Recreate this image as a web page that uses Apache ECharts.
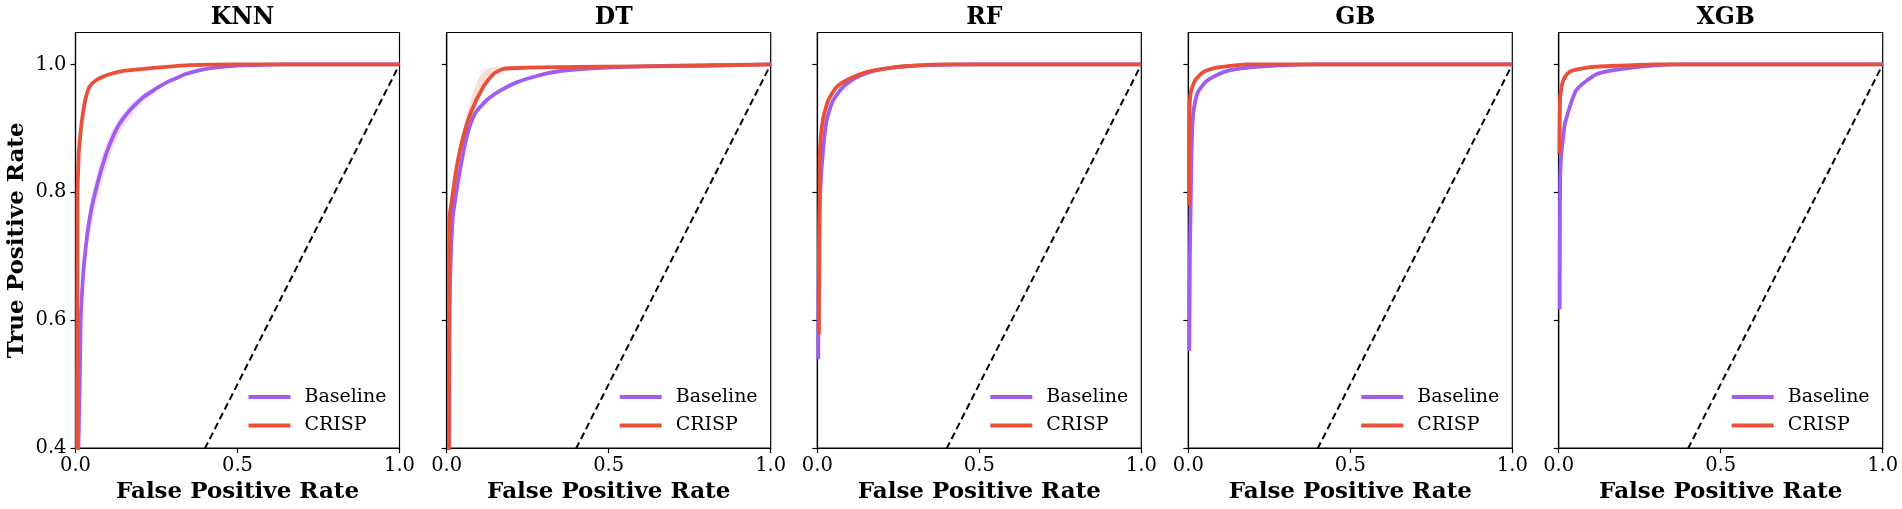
<!DOCTYPE html>
<html>
<head>
<meta charset="utf-8">
<script src="https://cdn.jsdelivr.net/npm/echarts@6/dist/echarts.min.js"></script>
<style>
html,body{margin:0;padding:0;background:#fff;}
#chart{width:1902px;height:509px;}
</style>
</head>
<body>
<div id="chart"></div>
<script>
// ---------- data ----------
const models = ['KNN', 'DT', 'RF', 'GB', 'XGB'];
const seriesNames = ['Baseline', 'CRISP'];
const xTicks = [0, 0.5, 1.0];
const yTicks = [0.4, 0.6, 0.8, 1.0];
const chance = [[0, 0], [1, 1]];

const knnBaseline = [[0.007,0.3],[0.009,0.4],[0.013,0.5],[0.016,0.6],[0.021,0.65],[0.026,0.686],[0.036,0.733],[0.046,0.766],[0.056,0.79],[0.067,0.812],[0.081,0.838],[0.096,0.862],[0.112,0.883],[0.133,0.905],[0.169,0.929],[0.205,0.947],[0.236,0.958],[0.261,0.966],[0.282,0.972],[0.313,0.979],[0.34,0.985],[0.385,0.991],[0.43,0.995],[0.49,0.998],[0.55,0.999],[0.65,1.0],[1.0,1.0]];
const knnCrisp = [[0.005,0.3],[0.005,0.5],[0.006,0.7],[0.006,0.798],[0.009,0.845],[0.01,0.861],[0.015,0.89],[0.02,0.913],[0.03,0.944],[0.043,0.965],[0.066,0.976],[0.09,0.982],[0.107,0.985],[0.148,0.99],[0.21,0.993],[0.272,0.996],[0.354,0.999],[0.5,1.0],[1.0,1.0]];

const dtBaseline = [[0.007,0.3],[0.008,0.5],[0.01,0.65],[0.018,0.757],[0.026,0.788],[0.041,0.835],[0.062,0.887],[0.087,0.923],[0.123,0.944],[0.165,0.959],[0.216,0.972],[0.278,0.982],[0.34,0.989],[0.45,0.994],[0.6,0.997],[0.8,0.999],[1.0,1.0]];
const dtCrisp = [[0.007,0.3],[0.007,0.6],[0.008,0.757],[0.016,0.788],[0.031,0.84],[0.051,0.887],[0.077,0.928],[0.113,0.965],[0.144,0.985],[0.175,0.993],[0.25,0.995],[0.35,0.996],[0.6,0.997],[0.8,0.998],[1.0,1.0]];

const rfBaseline = [[0.003,0.539],[0.004,0.65],[0.008,0.788],[0.017,0.861],[0.029,0.913],[0.049,0.944],[0.08,0.965],[0.122,0.98],[0.183,0.991],[0.245,0.996],[0.35,0.999],[0.5,1.0],[1.0,1.0]];
const rfCrisp = [[0.005,0.578],[0.006,0.7],[0.007,0.788],[0.008,0.861],[0.017,0.913],[0.034,0.944],[0.06,0.965],[0.101,0.978],[0.152,0.988],[0.214,0.994],[0.296,0.998],[0.4,1.0],[1.0,1.0]];

const gbBaseline = [[0.003,0.552],[0.005,0.7],[0.007,0.767],[0.01,0.861],[0.015,0.923],[0.028,0.955],[0.052,0.972],[0.082,0.982],[0.129,0.991],[0.2,0.996],[0.3,0.999],[0.4,1.0],[1.0,1.0]];
const gbCrisp = [[0.002,0.78],[0.003,0.913],[0.007,0.955],[0.021,0.975],[0.046,0.988],[0.077,0.994],[0.118,0.997],[0.18,1.0],[1.0,1.0]];

const xgbBaseline = [[0.003,0.617],[0.004,0.788],[0.005,0.83],[0.008,0.861],[0.013,0.882],[0.018,0.905],[0.026,0.92],[0.035,0.935],[0.041,0.944],[0.053,0.959],[0.07,0.968],[0.087,0.975],[0.118,0.985],[0.169,0.991],[0.24,0.996],[0.28,0.998],[0.38,1.0],[1.0,1.0]];
const xgbCrisp = [[0.002,0.861],[0.004,0.944],[0.007,0.959],[0.012,0.972],[0.019,0.98],[0.026,0.985],[0.04,0.99],[0.066,0.993],[0.097,0.996],[0.178,0.998],[0.3,1.0],[1.0,1.0]];

// shaded spread bands: upper edge then lower edge (reversed)
const knnBaselineBandUpper = [[0.03,0.735],[0.05,0.795],[0.075,0.848],[0.1,0.883],[0.13,0.913],[0.17,0.938],[0.21,0.955],[0.26,0.97]];
const knnBaselineBandLower = [[0.26,0.962],[0.22,0.946],[0.18,0.925],[0.14,0.897],[0.11,0.862],[0.085,0.822],[0.06,0.772],[0.04,0.722]];
const dtCrispBandUpper = [[0.01,0.75],[0.025,0.82],[0.04,0.87],[0.06,0.92],[0.08,0.955],[0.1,0.98],[0.12,0.993],[0.16,0.997]];
const dtCrispBandLower = [[0.16,0.99],[0.14,0.982],[0.12,0.965],[0.1,0.945],[0.08,0.92],[0.06,0.89],[0.04,0.85],[0.02,0.79],[0.012,0.75]];

const curves = [
  [knnBaseline, knnCrisp],
  [dtBaseline, dtCrisp],
  [rfBaseline, rfCrisp],
  [gbBaseline, gbCrisp],
  [xgbBaseline, xgbCrisp]
];
const bands = [
  {panel: 0, upper: knnBaselineBandUpper, lower: knnBaselineBandLower, which: 0},
  {panel: 1, upper: dtCrispBandUpper, lower: dtCrispBandLower, which: 1}
];

// ---------- style / layout ----------
const colors = ['#a15cf0', '#e8503a'];
const FONT = 'DejaVu Serif';
const panelLefts = [75.5, 446.7, 817.3, 1188.3, 1558.7];
const panelW = 324;
const panelTop = 32.5;
const panelH = 416.5;

const grids = [], xAxes = [], yAxes = [], series = [], titles = [], legends = [];

models.forEach((m, i) => {
  const L = panelLefts[i];
  grids.push({left: L, top: panelTop, width: panelW, height: panelH, show: true,
    borderColor: '#000', borderWidth: 1.2, backgroundColor: 'transparent', containLabel: false});
  xAxes.push({type: 'value', gridIndex: i, min: 0, max: 1,
    name: 'False Positive Rate', nameLocation: 'middle', nameGap: 31,
    nameTextStyle: {fontFamily: FONT, fontWeight: 'bold', fontSize: 23, color: '#000'},
    axisLine: {show: true, onZero: false, lineStyle: {color: '#000', width: 1.2}},
    axisTick: {show: true, length: 5, lineStyle: {color: '#000', width: 1.2}, customValues: xTicks},
    axisLabel: {show: true, margin: 8, fontFamily: FONT, fontSize: 19.5, color: '#000', customValues: xTicks,
      formatter: v => v.toFixed(1)},
    splitLine: {show: false}});
  yAxes.push({type: 'value', gridIndex: i, min: 0.4, max: 1.05,
    name: i === 0 ? 'True Positive Rate' : '', nameLocation: 'middle', nameGap: 47,
    nameTextStyle: {fontFamily: FONT, fontWeight: 'bold', fontSize: 23, color: '#000'},
    axisLine: {show: true, onZero: false, lineStyle: {color: '#000', width: 1.2}},
    axisTick: {show: true, length: 5, lineStyle: {color: '#000', width: 1.2}, customValues: yTicks},
    axisLabel: {show: i === 0, margin: 9, fontFamily: FONT, fontSize: 19.5, color: '#000', customValues: yTicks,
      formatter: v => v.toFixed(1)},
    splitLine: {show: false}});
  titles.push({text: m, left: L + panelW / 2, top: 1, textAlign: 'center',
    textStyle: {fontFamily: FONT, fontWeight: 'bold', fontSize: 23.5, color: '#000'}});
  legends.push({data: seriesNames, orient: 'vertical', left: L + 168, top: 382,
    icon: 'rect', itemWidth: 42, itemHeight: 4, itemGap: 8.5,
    textStyle: {fontFamily: FONT, fontSize: 19, color: '#000', padding: [0, 0, 0, 9], lineHeight: 20},
    selectedMode: false});

  // chance diagonal
  series.push({type: 'line', name: 'chance', xAxisIndex: i, yAxisIndex: i, data: chance,
    showSymbol: false, clip: true, silent: true, z: 2,
    lineStyle: {color: '#000', width: 2, type: [7, 4]}});
});

bands.forEach(b => {
  const poly = b.upper.concat(b.lower);
  series.push({type: 'custom', name: 'band' + b.panel, xAxisIndex: b.panel, yAxisIndex: b.panel,
    data: poly, clip: true, silent: true, z: 1,
    renderItem: (params, api) => {
      if (params.dataIndex !== 0) return null;
      const pts = poly.map(p => api.coord(p));
      return {type: 'polygon', shape: {points: pts}, style: {fill: colors[b.which], opacity: 0.2}};
    }});
});

curves.forEach((pair, i) => {
  pair.forEach((data, k) => {
    series.push({type: 'line', name: seriesNames[k], xAxisIndex: i, yAxisIndex: i, data: data,
      showSymbol: false, clip: true, smooth: 0.2, z: 3 + k,
      lineStyle: {color: colors[k], width: 3.8}, itemStyle: {color: colors[k]}});
  });
});

const chart = echarts.init(document.getElementById('chart'), null, {renderer: 'canvas'});
chart.setOption({
  animation: false,
  backgroundColor: '#fff',
  title: titles,
  legend: legends,
  grid: grids,
  xAxis: xAxes,
  yAxis: yAxes,
  series: series
});
</script>
</body>
</html>
